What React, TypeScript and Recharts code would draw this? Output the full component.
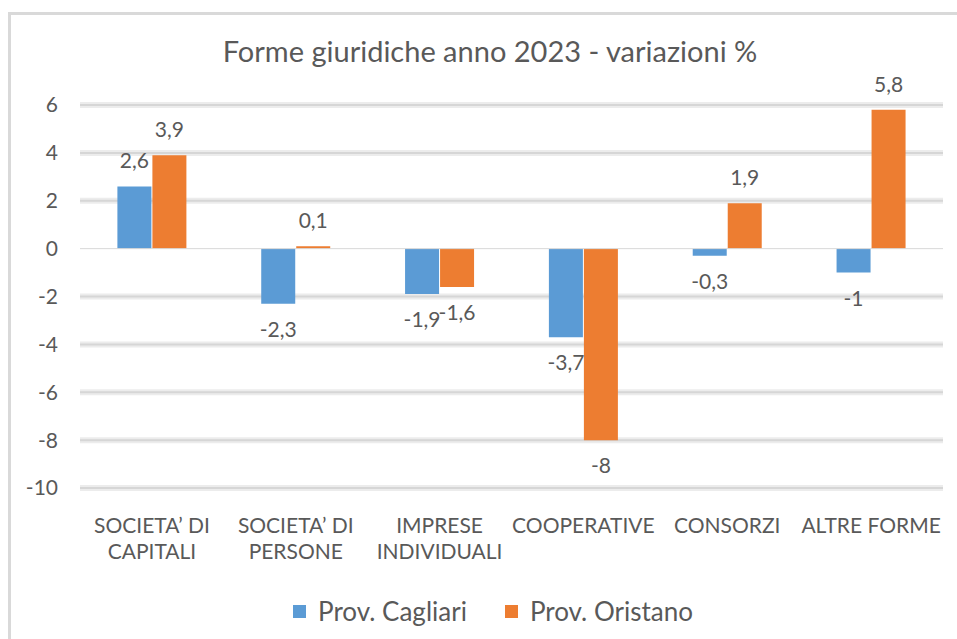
import React from "react";
import {
  BarChart,
  Bar,
  XAxis,
  YAxis,
  CartesianGrid,
  ReferenceLine,
  LabelList,
  Legend,
} from "recharts";

const categories = [
  "SOCIETA’ DI CAPITALI",
  "SOCIETA’ DI PERSONE",
  "IMPRESE INDIVIDUALI",
  "COOPERATIVE",
  "CONSORZI",
  "ALTRE FORME",
];
const categoryLines: string[][] = [
  ["SOCIETA’ DI", "CAPITALI"],
  ["SOCIETA’ DI", "PERSONE"],
  ["IMPRESE", "INDIVIDUALI"],
  ["COOPERATIVE"],
  ["CONSORZI"],
  ["ALTRE FORME"],
];
const cagliari = [2.6, -2.3, -1.9, -3.7, -0.3, -1];
const oristano = [3.9, 0.1, -1.6, -8, 1.9, 5.8];
const yTicks = [6, 4, 2, 0, -2, -4, -6, -8, -10];
const gridValues = [6, 4, 2, -2, -4, -6, -8, -10];
const seriesNames = ["Prov. Cagliari", "Prov. Oristano"];
const title = "Forme giuridiche anno 2023 - variazioni %";

const data = categories.map((c, i) => ({
  name: c,
  cagliari: cagliari[i],
  oristano: oristano[i],
}));

const FONT = "Lato, 'Open Sans', sans-serif";
const TEXT = "#595959";
const BLUE = "#5B9BD5";
const ORANGE = "#ED7D31";

const fmt = (v: number) => String(v).replace(".", ",");

const XTick = (props: any) => {
  const { x, y, payload } = props;
  const idx = categories.indexOf(payload.value);
  const lines = idx >= 0 ? categoryLines[idx] : [payload.value];
  return (
    <g transform={`translate(${x},${y})`}>
      {lines.map((l, i) => (
        <text
          key={i}
          x={0}
          y={37 + i * 26}
          textAnchor="middle"
          fill={TEXT}
          fontSize={21}
          fontFamily={FONT}
        >
          {l}
        </text>
      ))}
    </g>
  );
};

const ValueLabel = (props: any) => {
  const { x, y, width, height, value } = props;
  const top = Math.min(y, y + height);
  const bottom = Math.max(y, y + height);
  const cx = x + width / 2;
  const ty = value >= 0 ? top - 18 : bottom + 33;
  return (
    <text
      x={cx}
      y={ty}
      textAnchor="middle"
      fill={TEXT}
      fontSize={21}
      fontFamily={FONT}
    >
      {fmt(value)}
    </text>
  );
};

const LegendContent = () => (
  <div
    style={{
      display: "flex",
      justifyContent: "center",
      alignItems: "center",
      fontFamily: FONT,
      fontSize: 26,
      lineHeight: "31px",
      color: TEXT,
    }}
  >
    {seriesNames.map((n, i) => (
      <div
        key={n}
        style={{ display: "flex", alignItems: "center", marginRight: i === 0 ? 38 : 0 }}
      >
        <div
          style={{
            width: 13,
            height: 13,
            background: i === 0 ? BLUE : ORANGE,
            marginRight: 12,
          }}
        />
        <span>{n}</span>
      </div>
    ))}
  </div>
);

export default function App() {
  return (
    <div
      style={{
        position: "absolute",
        left: 0,
        top: 0,
        width: 957,
        height: 639,
        background: "#fff",
        overflow: "hidden",
      }}
    >
      <div
        style={{
          position: "absolute",
          left: 8,
          top: 12,
          width: 1000,
          height: 700,
          borderLeft: "3px solid #d9d9d9",
          borderTop: "3px solid #d9d9d9",
        }}
      />
      <div
        style={{
          position: "absolute",
          left: 0,
          top: 33,
          width: 980,
          textAlign: "center",
          fontFamily: FONT,
          fontSize: 29,
          lineHeight: "35px",
          color: TEXT,
        }}
      >
        {title}
      </div>
      <div style={{ position: "absolute", left: 0, top: 0 }}>
        <BarChart
          width={957}
          height={639}
          data={data}
          margin={{ top: 105, right: 14, bottom: 91, left: 10 }}
          barCategoryGap="26%"
          barGap={1}
        >
          <CartesianGrid
            vertical={false}
            horizontalValues={gridValues}
            stroke="#ececec"
            strokeWidth={6}
          />
          <CartesianGrid
            vertical={false}
            horizontalValues={gridValues}
            stroke="#d6d6d6"
            strokeWidth={2}
          />
          <XAxis
            dataKey="name"
            axisLine={false}
            tickLine={false}
            interval={0}
            height={60}
            tick={<XTick />}
          />
          <YAxis
            width={70}
            domain={[-10, 6]}
            ticks={yTicks}
            axisLine={false}
            tickLine={false}
            tickSize={0}
            tickMargin={22}
            tick={{ fill: TEXT, fontSize: 21, fontFamily: FONT }}
          />
          <Legend
            verticalAlign="middle"
            align="center"
            layout="horizontal"
            wrapperStyle={{ top: 596, left: 0, width: 986 }}
            content={<LegendContent />}
          />
          <Bar dataKey="cagliari" name={seriesNames[0]} fill={BLUE} isAnimationActive={false}>
            <LabelList dataKey="cagliari" content={<ValueLabel />} />
          </Bar>
          <Bar dataKey="oristano" name={seriesNames[1]} fill={ORANGE} isAnimationActive={false}>
            <LabelList dataKey="oristano" content={<ValueLabel />} />
          </Bar>
          <ReferenceLine y={0} stroke="#d9d9d9" strokeWidth={1} />
        </BarChart>
      </div>
    </div>
  );
}
